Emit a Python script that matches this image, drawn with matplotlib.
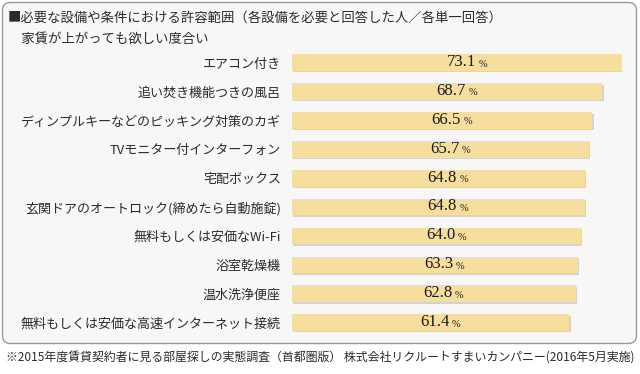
import matplotlib
matplotlib.use("Agg")
import matplotlib.pyplot as plt
from matplotlib.patches import FancyBboxPatch
import matplotlib.patheffects as pe

plt.rcParams['font.family'] = ['Noto Sans CJK JP', 'DejaVu Sans']

categories = [
    "エアコン付き",
    "追い焚き機能つきの風呂",
    "ディンプルキーなどのピッキング対策のカギ",
    "TVモニター付インターフォン",
    "宅配ボックス",
    "玄関ドアのオートロック(締めたら自動施錠)",
    "無料もしくは安価なWi-Fi",
    "浴室乾燥機",
    "温水洗浄便座",
    "無料もしくは安価な高速インターネット接続",
]
values = [73.1, 68.7, 66.5, 65.7, 64.8, 64.8, 64.0, 63.3, 62.8, 61.4]
title_lines = ["■必要な設備や条件における許容範囲（各設備を必要と回答した人／各単一回答）",
               "　家賃が上がっても欲しい度合い"]
footnote = "※2015年度賃貸契約者に見る部屋探しの実態調査（首都圏版） 株式会社リクルートすまいカンパニー(2016年5月実施)"

W, H = 640, 374
fig = plt.figure(figsize=(W/100, H/100), dpi=100)
fig.patch.set_facecolor('white')

# background axes holding the rounded panel
bg = fig.add_axes([0, 0, 1, 1], zorder=-10)
bg.set_xlim(0, W)
bg.set_ylim(H, 0)
bg.axis('off')
panel = FancyBboxPatch((2.5, 2.5), 634, 341,
                       boxstyle="round,pad=0,rounding_size=8",
                       facecolor='#f7f7f7', edgecolor='#9a9a9a', linewidth=1.0)
bg.add_patch(panel)

txt_color = '#2b2b2b'
bg.text(8, 18, title_lines[0], fontsize=9.6, color=txt_color, va='center', ha='left')
bg.text(8, 39, title_lines[1], fontsize=9.6, color=txt_color, va='center', ha='left')
bg.text(W/2, 358, footnote, fontsize=8.6, color=txt_color, va='center', ha='center')

# bar axes
x0, x1 = 292, 622
spacing = 28.9
ytop = 62.7 - spacing/2
ybot = 322.7 + spacing/2
ax = fig.add_axes([x0/W, 1-ybot/H, (x1-x0)/W, (ybot-ytop)/H], zorder=1)
ax.set_facecolor('none')
ax.set_xlim(0, max(values))
ax.set_ylim(len(values)-0.5, -0.5)
for s in ax.spines.values():
    s.set_visible(False)
ax.set_xticks([])
ax.set_yticks(range(len(categories)))
ax.set_yticklabels(categories, fontsize=9.4, color=txt_color)
ax.tick_params(axis='y', length=0, pad=8)

bars = ax.barh(range(len(values)), values, height=16.7/spacing, color='#f6de9f',
               edgecolor='none')
for b in bars:
    b.set_path_effects([pe.SimplePatchShadow(offset=(1, -1), shadow_rgbFace='#b0b0b0', alpha=0.5),
                        pe.Normal()])

for i, v in enumerate(values):
    cx = v/2
    num = ax.annotate(f"{v:.1f}", xy=(cx, i), xytext=(3, 0.5), textcoords='offset points',
                      ha='center', va='center', fontsize=12, family='Liberation Serif',
                      color='#1a1a1a')
    ax.annotate("%", xy=(1, 0.5), xycoords=num, xytext=(1.8, -1.5),
                textcoords='offset points', ha='left', va='center', fontsize=7.5,
                family='Liberation Serif', color='#1a1a1a')

fig.savefig("out.png", dpi=100, facecolor='white')
